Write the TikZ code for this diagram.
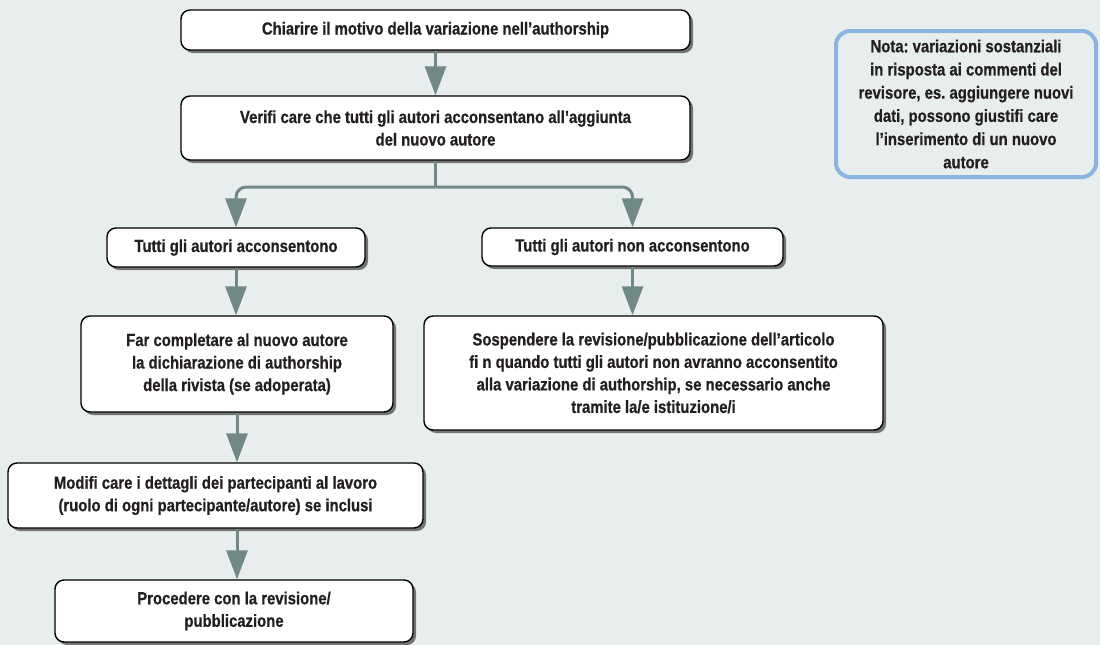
\documentclass[tikz,border=0pt]{standalone}
\usepackage{fontspec}
\newfontfamily\condfont{Liberation Sans}[UprightFont=* Bold, BoldFont=* Bold, FakeStretch=0.85, FakeBold=0.6]
\usetikzlibrary{arrows.meta,shadows}
\frenchspacing
\definecolor{bgc}{RGB}{232,238,238}
\definecolor{arrc}{RGB}{112,137,132}
\definecolor{txtc}{RGB}{35,31,32}
\definecolor{notec}{RGB}{140,180,224}
\tikzset{
  box/.style={draw=black, line width=1.4pt, fill=white, rounded corners=9pt,
    align=center, text=txtc, font=\condfont\fontsize{17.5}{22.5}\selectfont,
    inner sep=0pt, drop shadow={shadow xshift=3pt, shadow yshift=-3pt, fill=black!55, opacity=1}},
  notebox/.style={draw=notec, line width=4pt, fill=bgc, rounded corners=14pt,
    align=center, text=txtc, font=\condfont\fontsize{17.5}{23.2}\selectfont, inner sep=0pt},
  conn/.style={draw=arrc, line width=3pt, -{Triangle[width=21pt,length=29pt]}},
  plain/.style={draw=arrc, line width=3pt}
}
\begin{document}
\begin{tikzpicture}[x=1pt,y=-1pt]
\fill[bgc] (0,0) rectangle (1100,645);
\useasboundingbox (0,0) rectangle (1100,645);
\node[box, minimum width=509pt, minimum height=40pt] (b1) at (435.5,30) {Chiarire il motivo della variazione nell’authorship};
\node[box, minimum width=509pt, minimum height=64pt] (b2) at (435.5,128) {Verifi care che tutti gli autori acconsentano all’aggiunta\\del nuovo autore};
\node[box, minimum width=258pt, minimum height=39pt] (b3) at (236,247.5) {Tutti gli autori acconsentono};
\node[box, minimum width=301pt, minimum height=38pt] (b4) at (632.5,247) {Tutti gli autori non acconsentono};
\node[box, minimum width=312pt, minimum height=96pt] (b5) at (237,364) {Far completare al nuovo autore\\la dichiarazione di authorship\\della rivista (se adoperata)};
\node[box, minimum width=415pt, minimum height=65pt] (b6) at (215.5,495.5) {Modifi care i dettagli dei partecipanti al lavoro\\(ruolo di ogni partecipante/autore) se inclusi};
\node[box, minimum width=358pt, minimum height=62pt] (b7) at (234,611) {Procedere con la revisione/\\pubblicazione};
\node[box, minimum width=459pt, minimum height=114pt] (b8) at (653.5,373) {Sospendere la revisione/pubblicazione dell’articolo\\fi n quando tutti gli autori non avranno acconsentito\\alla variazione di authorship, se necessario anche\\tramite la/e istituzione/i};
\node[notebox, minimum width=260pt, minimum height=146pt] (note) at (966,104) {Nota: variazioni sostanziali\\in risposta ai commenti del\\revisore, es. aggiungere nuovi\\dati, possono giustifi care\\l’inserimento di un nuovo\\autore};
\coordinate (split) at (435.5,187);
\draw[conn] (b1.south) -- (b2.north);
\draw[plain] (b2.south) -- (split);
\draw[conn, rounded corners=10pt] (split) -| (b3.north);
\draw[conn, rounded corners=10pt] (split) -| (b4.north);
\draw[conn] (b3.south) -- (b3.south |- b5.north);
\draw[conn] (b4.south) -- (b4.south |- b8.north);
\draw[conn] (b5.south) -- (b5.south |- b6.north);
\draw[conn] (b5.south |- b6.south) -- (b5.south |- b7.north);
\end{tikzpicture}
\end{document}
